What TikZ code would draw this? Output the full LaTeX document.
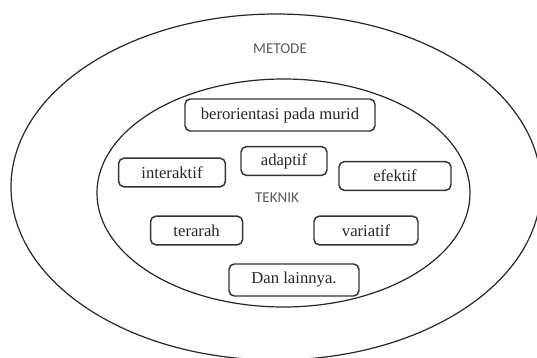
\documentclass[tikz,border=0pt]{standalone}
\usepackage{fontspec}
\setmainfont{Liberation Serif}
\newfontfamily\labelfont{Carlito}
\tikzset{
	trait/.style={draw=black!80, line width=1.1pt, rounded corners=4pt, inner sep=0pt, text=black!85, font=\fontsize{12.5}{14}\selectfont, minimum height=21.5pt},
	layer/.style={text=black!65, font=\labelfont\fontsize{11.3}{13}\selectfont}
}

\begin{document}
\begin{tikzpicture}[x=0.75pt, y=-0.75pt]
				\clip (0,0) rectangle (537,358);
				
				\draw[line width=0.9pt, black!85] (276,187) ellipse [x radius=198.75pt, y radius=129.75pt];
				\draw[line width=0.9pt, black!85] (283.5,193) ellipse [x radius=139.9pt, y radius=85.5pt];
				
				\node[layer] (metode) at (280,48.6) {METODE};
				\node[layer] (teknik) at (277,198) {TEKNIK};
				
				\node[trait, minimum width=142.5pt, minimum height=24pt] (murid) at (280,115) {berorientasi pada murid};
				\node[trait, minimum width=80pt] (interaktif) at (172,172.5) {interaktif};
				\node[trait, minimum width=64.5pt] (adaptif) at (284,161) {adaptif};
				\node[trait, minimum width=84pt] (efektif) at (395,176) {efektif};
				\node[trait, minimum width=69pt] (terarah) at (196.6,230.5) {terarah};
				\node[trait, minimum width=78pt] (variatif) at (366,230.5) {variatif};
				\node[trait, minimum width=97.5pt, minimum height=24pt] (lainnya) at (294,280) {Dan lainnya.};
			\end{tikzpicture}
\end{document}
